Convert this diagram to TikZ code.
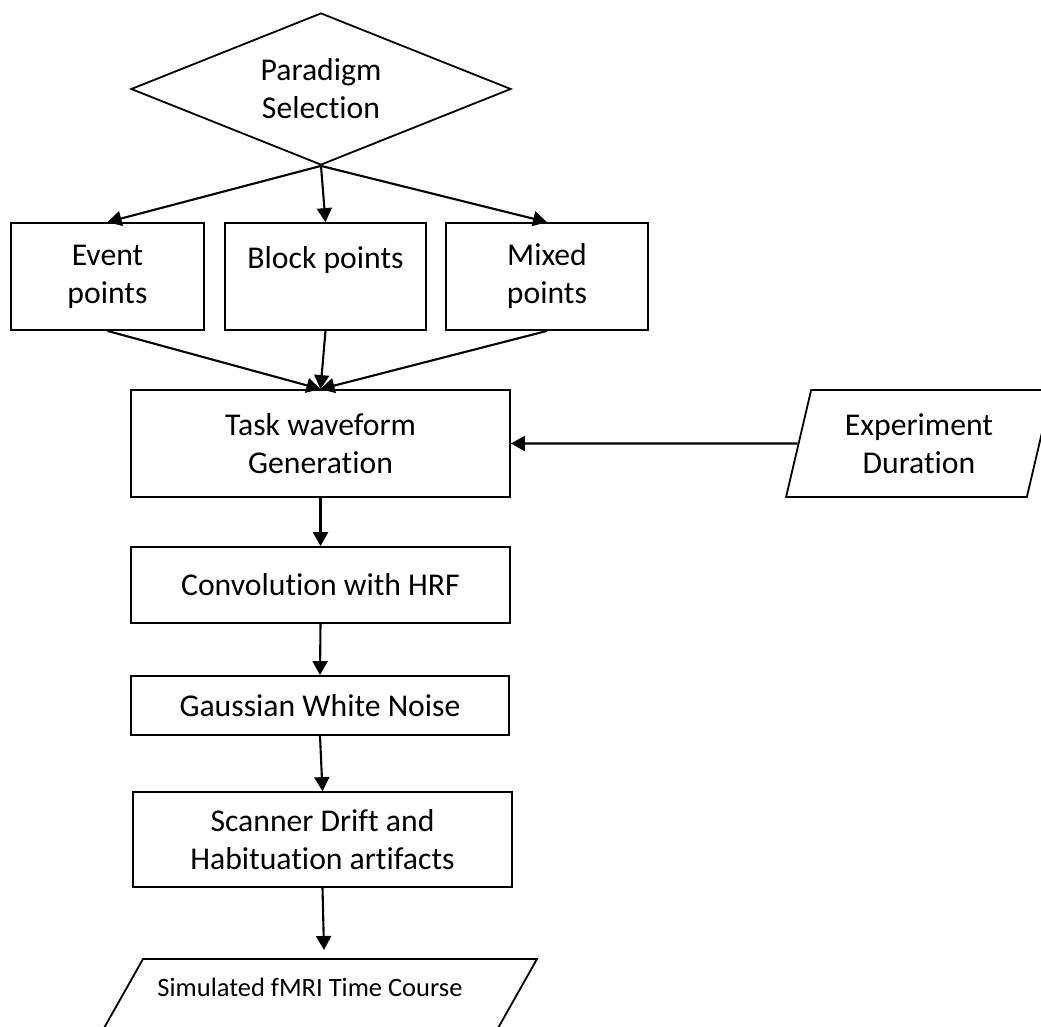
\documentclass[tikz,border=0pt]{standalone}
\usepackage{fontspec}
\setmainfont[Ligatures=NoCommon]{Carlito}
\usetikzlibrary{arrows.meta, shapes.geometric, positioning}

\begin{document}
\begin{tikzpicture}[x=1pt, y=-1pt, >={Triangle[length=14pt,width=15pt]},
		box/.style={draw, line width=1.8pt, inner sep=0pt, align=center, font=\fontsize{31.7}{38}\selectfont},
		flow/.style={->, line width=2.1pt}]
		\useasboundingbox (0,0) rectangle (1041,1026);
		\clip (0,0) rectangle (1041,1026);

		% decision and the three kinds of paradigm
		\node[box, diamond, aspect=2.5, minimum width=380pt, minimum height=152pt] (para) at (321,89) {Paradigm\\Selection};
		\node[box, minimum width=193pt, minimum height=107pt] (event) at (107.5,276.5) {Event\\points};
		\node[box, minimum width=201pt, minimum height=107pt] (block) at (325.5,276.5) {Block points\\~};
		\node[box, minimum width=202pt, minimum height=107pt] (mixed) at (547,276.5) {Mixed\\points};
		\draw[flow] (para.south) -- (event.north); \draw[flow] (para.south) -- (block.north); \draw[flow] (para.south) -- (mixed.north);

		% processing chain
		\node[box, minimum width=379pt, minimum height=107pt] (task) at (320.5,443.5) {Task waveform\\Generation};
		\node[box, trapezium, trapezium left angle=74, trapezium right angle=106, trapezium stretches=true, minimum width=266pt, minimum height=107pt] (dur) at (919,443.5) {Experiment\\Duration};
		\draw[flow] (event.south) -- (task.north); \draw[flow] (block.south) -- (task.north); \draw[flow] (mixed.south) -- (task.north);
		\draw[flow] (dur.west) -- (task.east);

		\node[box, minimum width=379pt, minimum height=76pt] (conv) at (320.5,585) {Convolution with HRF};
		\node[box, minimum width=378pt, minimum height=59pt] (noise) at (320,705.5) {Gaussian White Noise};
		\node[box, minimum width=379pt, minimum height=95pt] (scan) at (322.5,839.5) {Scanner Drift and\\Habituation artifacts};
		\draw[flow] (task.south) -- (conv.north); \draw[flow] (conv.south) -- (noise.north); \draw[flow] (noise.south) -- (scan.north);

		% output, runs off the page
		\draw[line width=1.8pt] (143,959) -- (537,959) -- (480,1060) -- (86,1060) -- cycle;
		\node[font=\fontsize{26.5}{32}\selectfont] (sim) at (310,987) {Simulated fMRI Time Course};
		\coordinate (simtop) at (324,950);
		\draw[flow] (scan.south) -- (simtop);
	\end{tikzpicture}
\end{document}
